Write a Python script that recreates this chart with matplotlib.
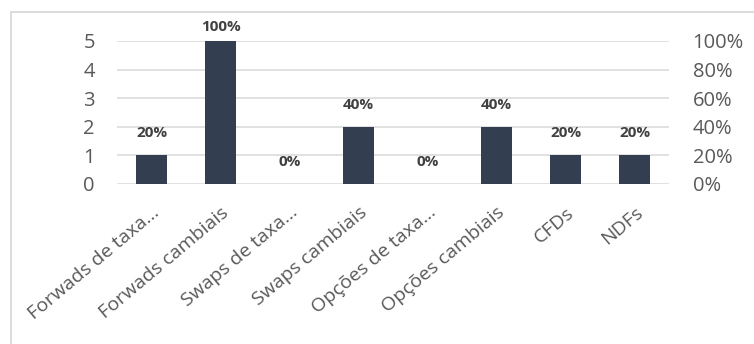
import matplotlib.pyplot as plt
from matplotlib.patches import Rectangle

# ── Dados ────────────────────────────────────────────────────
categorias = ["Forwads de taxa...", "Forwads cambiais", "Swaps de taxa...",
              "Swaps cambiais", "Opções de taxa...", "Opções cambiais",
              "CFDs", "NDFs"]
contagens = [1, 5, 0, 2, 0, 2, 1, 1]
percentuais = ["20%", "100%", "0%", "40%", "0%", "40%", "20%", "20%"]
ticks_esq = [0, 1, 2, 3, 4, 5]
ticks_dir = ["0%", "20%", "40%", "60%", "80%", "100%"]

BAR_COLOR = "#333f50"
GRID = "#d9d9d9"
TICK_C = "#595959"
LABEL_C = "#404040"

plt.rcParams["font.family"] = ["Open Sans", "DejaVu Sans"]

W, H = 754, 344
fig = plt.figure(figsize=(W / 100, H / 100), dpi=100)
ax = fig.add_axes([117 / W, 1 - 184 / H, (669 - 117) / W, (184 - 41) / H])

x = range(len(categorias))
ax.bar(x, contagens, width=0.435, color=BAR_COLOR, zorder=3)
ax.set_xlim(-0.5, len(categorias) - 0.5)
ax.set_ylim(0, 5)
ax.set_yticks(ticks_esq)
ax.yaxis.grid(True, color=GRID, linewidth=1.1, zorder=0)
for s in ax.spines.values():
    s.set_visible(False)
ax.tick_params(axis="y", length=0, pad=16, labelsize=14.5, labelcolor=TICK_C)
ax.tick_params(axis="x", length=0, pad=14)
ax.set_xticks(list(x))
ax.set_xticklabels(categorias, rotation=40, ha="right", va="top",
                   rotation_mode="anchor", fontsize=14, color=TICK_C)
for t in ax.get_xticklabels():
    t.set_x(t.get_position()[0])

for xi, c, p in zip(x, contagens, percentuais):
    off = 5 if c == max(contagens) else 11
    ax.annotate(p, (xi, c), xytext=(0, off), textcoords="offset points",
                ha="center", va="bottom", fontsize=11, fontweight="bold",
                color=LABEL_C)

ax2 = ax.twinx()
ax2.set_ylim(0, 5)
ax2.set_yticks(ticks_esq)
ax2.set_yticklabels(ticks_dir)
for s in ax2.spines.values():
    s.set_visible(False)
ax2.tick_params(axis="y", length=0, pad=17, labelsize=14.5, labelcolor=TICK_C)

# moldura do gráfico
fig.patches.append(Rectangle((11 / W, -0.1), 1.2, 1 - 12 / H + 0.1,
                             transform=fig.transFigure, fill=False,
                             edgecolor=GRID, linewidth=1.3))

fig.savefig("out.png", dpi=100, facecolor="white")
